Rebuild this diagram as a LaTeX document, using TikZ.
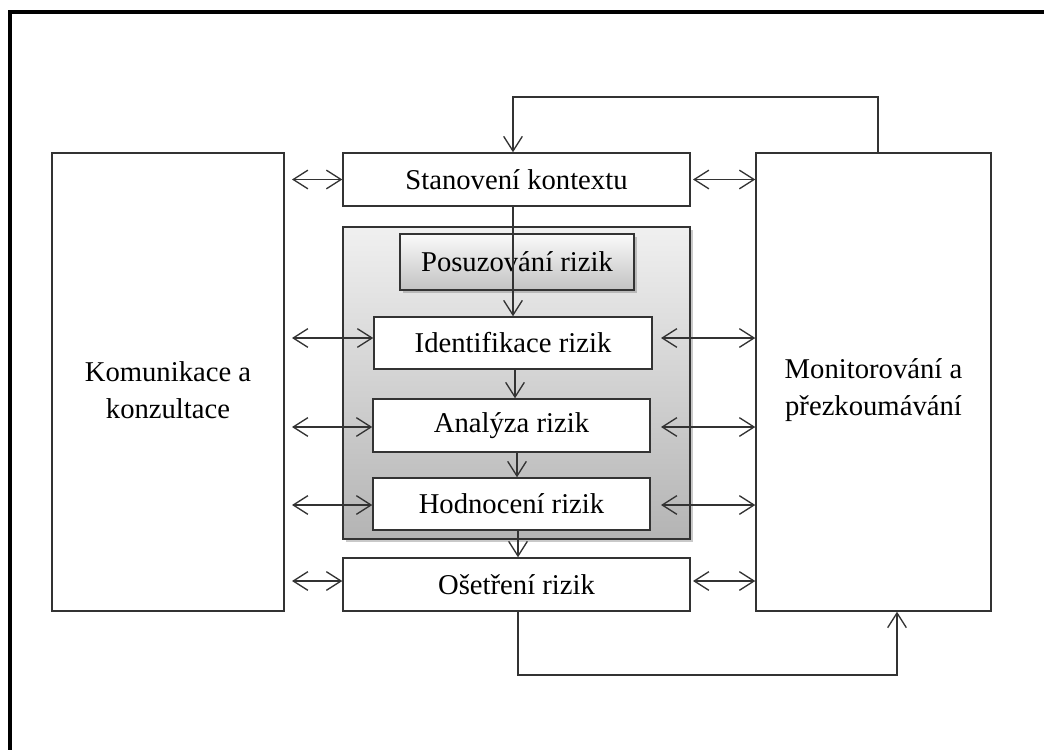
\documentclass[tikz,border=0pt]{standalone}
\usepackage{fontspec}
\setmainfont{Liberation Serif}
\usetikzlibrary{arrows.meta,shadows,calc}
\definecolor{lineC}{HTML}{333333}
\definecolor{grayTop}{HTML}{F0F0F0}
\definecolor{grayBot}{HTML}{B4B4B4}
\definecolor{posTop}{HTML}{FAFAFA}
\definecolor{posBot}{HTML}{C2C2C2}
\begin{document}
\begin{tikzpicture}[x=0.75pt,y=-0.75pt,
  txt/.style={inner sep=0pt, align=center, font=\fontsize{21.5}{27.75}\selectfont},
  box/.style={txt, draw=lineC, line width=1.1pt, fill=white},
  conn/.style={draw=lineC, line width=1pt},
  arr/.style={conn, -{Straight Barb[length=11pt,width=14pt,line width=1pt]}},
  darr/.style={conn, {Straight Barb[length=11pt,width=14pt,line width=1pt]}-{Straight Barb[length=11pt,width=14pt,line width=1pt]}},
  shbox/.style={drop shadow={shadow xshift=2pt, shadow yshift=-2.5pt, opacity=0.35, fill=black!60}}
]
\useasboundingbox (0,0) rectangle (1044,749);
\fill[white] (0,0) rectangle (1044,749);
% outer frame (left and top visible)
\draw[line width=3pt, black] (10,770) -- (10,12) -- (1060,12);

% side boxes
\node[box, minimum width=174pt, minimum height=343.5pt] (kom) at (168,382) {};
\node[txt] (komt) at ($(kom.center)+(0,8)$) {Komunikace a\\konzultace};
\node[box, minimum width=176.25pt, minimum height=343.5pt] (mon) at (873.5,382) {};
\node[txt] (mont) at ($(mon.center)+(0,8)$) {Monitorování a\\přezkoumávání};

% context
\node[box, minimum width=260.25pt, minimum height=39.75pt] (stan) at (516.5,179.5) {Stanovení kontextu};

% risk assessment group
\node[box, shbox, top color=grayTop, bottom color=grayBot, minimum width=260.25pt, minimum height=234pt] (grp) at (516.5,383) {};
\node[box, shbox, top color=posTop, bottom color=posBot, minimum width=175.5pt, minimum height=42pt] (pos) at (517,262) {Posuzování rizik};
\node[box, minimum width=208.5pt, minimum height=39pt] (ident) at (513,343) {Identifikace rizik};
\node[box, minimum width=207.75pt, minimum height=39.75pt] (anal) at (511.5,425.5) {Analýza rizik};
\node[box, minimum width=207.75pt, minimum height=39pt] (hod) at (511.5,504) {Hodnocení rizik};

% treatment
\node[box, minimum width=260.25pt, minimum height=39.75pt] (oset) at (516.5,584.5) {Ošetření rizik};

% helper x positions
\coordinate (L) at (292,0);
\coordinate (LS) at (292,0);
\coordinate (R) at (661,0);
\coordinate (RS) at (693,0);
\coordinate (tr) at (878,97);
\coordinate (tl) at (513,97);
\coordinate (br) at (897,675);
\coordinate (bl) at (518,675);

% vertical flow
\draw[arr] (stan.south -| tl) -- (ident.north -| tl);
\draw[arr] (ident.south -| 515,0) -- (anal.north -| 515,0);
\draw[arr] (anal.south -| 517,0) -- (hod.north -| 517,0);
\draw[arr] (hod.south -| bl) -- (oset.north -| bl);

% feedback loops
\draw[arr] (mon.north -| tr) -- (tr) -- (tl) -- (stan.north -| tl);
\draw[arr] (oset.south -| bl) -- (bl) -- (br) -- (mon.south -| br);

% horizontal double arrows - left
\draw[darr] (LS |- stan.west) -- (stan.west);
\draw[darr] ($(L |- ident.west)+(0,-5)$) -- ($(ident.west)+(0,-5)$);
\draw[darr] ($(L |- anal.west)+(0,1.5)$) -- ($(anal.west)+(0,1.5)$);
\draw[darr] ($(L |- hod.west)+(0,1)$) -- ($(hod.west)+(0,1)$);
\draw[darr] ($(LS |- oset.west)+(0,-3.5)$) -- ($(oset.west)+(0,-3.5)$);

% horizontal double arrows - right
\draw[darr] (RS |- stan.east) -- (mon.west |- stan.east);
\draw[darr] ($(R |- ident.east)+(0,-5)$) -- ($(mon.west |- ident.east)+(0,-5)$);
\draw[darr] ($(R |- anal.east)+(0,1.5)$) -- ($(mon.west |- anal.east)+(0,1.5)$);
\draw[darr] ($(R |- hod.east)+(0,1)$) -- ($(mon.west |- hod.east)+(0,1)$);
\draw[darr] ($(RS |- oset.east)+(0,-3.5)$) -- ($(mon.west |- oset.east)+(0,-3.5)$);
\end{tikzpicture}
\end{document}
